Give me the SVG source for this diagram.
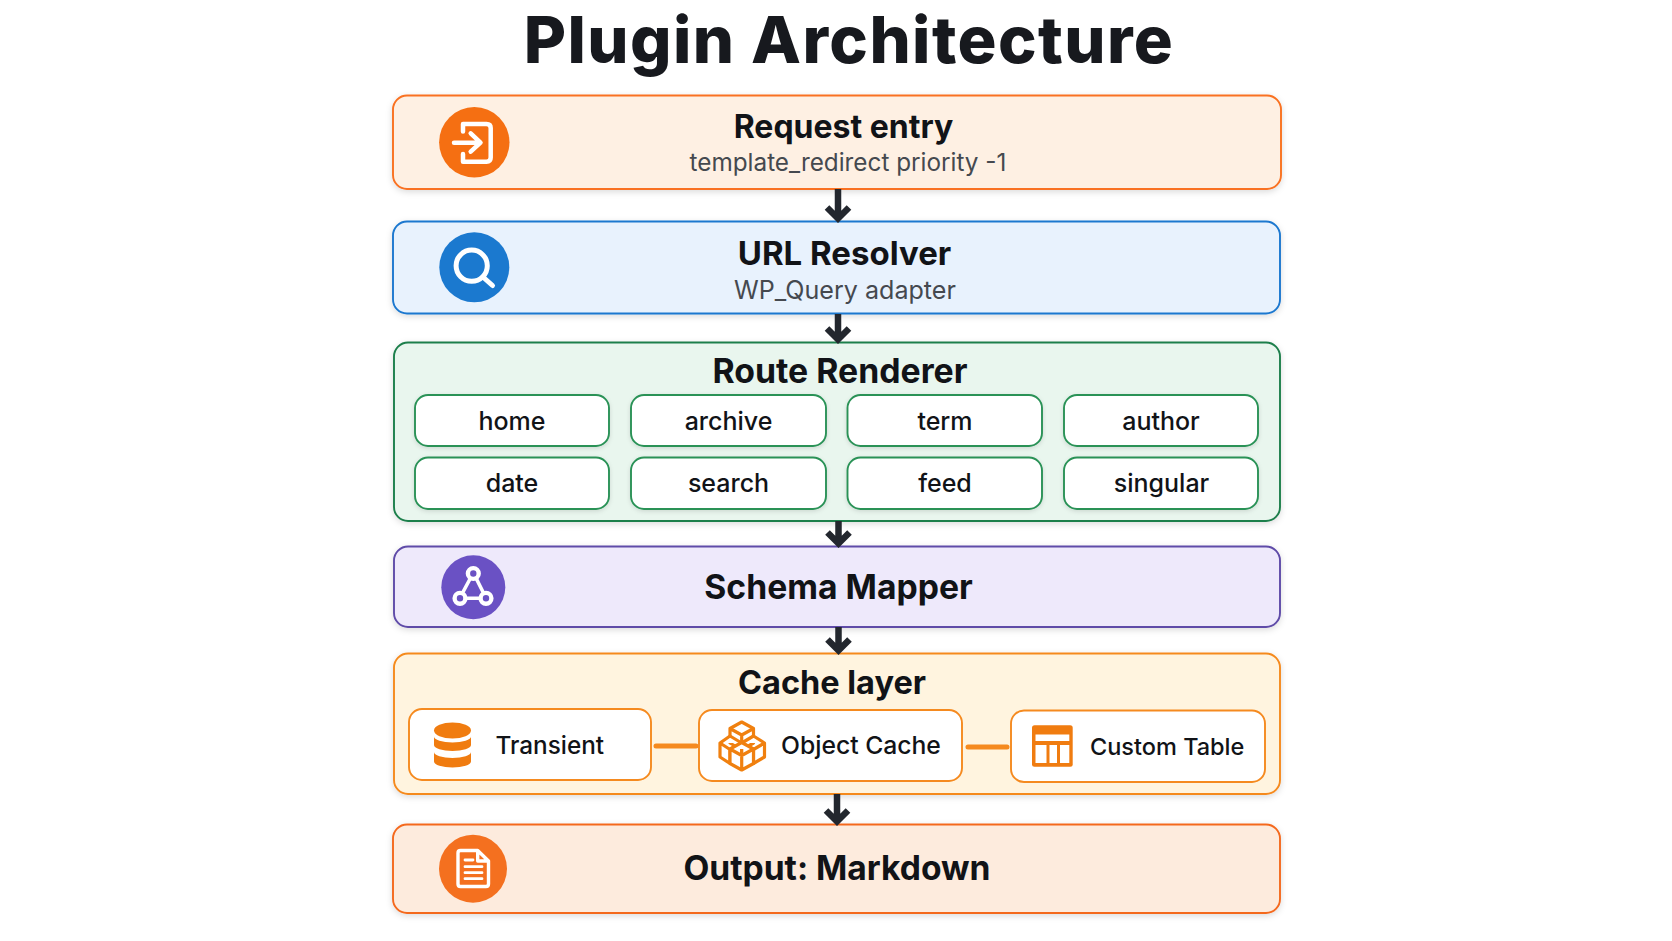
<svg xmlns="http://www.w3.org/2000/svg" width="1672" height="941" viewBox="0 0 1672 941">
<style>
text{font-family:Inter,"Liberation Sans",sans-serif;fill:#111317}
.h{font-weight:700;text-anchor:middle}
.s{font-weight:400;fill:#45494f;text-anchor:middle}
.c{font-size:25px;font-weight:500;text-anchor:middle}
.i{font-weight:500}
.box{stroke-width:1.9;filter:url(#sh)}
.chip{fill:#fff;stroke:#2a9257;stroke-width:1.9;filter:url(#shs)}
.sub{fill:#fff;stroke-width:1.9;stroke:#f58a1f}
.w{fill:none;stroke:#fff;stroke-linecap:round;stroke-linejoin:round}
.a{stroke:#23272e;stroke-width:6.5;fill:none;stroke-linejoin:miter}
.o{fill:#f07c10}
.cube{fill:#fff;stroke:#f0800f;stroke-width:3.2;stroke-linejoin:round}
</style>
<defs>
<filter id="sh" x="-5%" y="-20%" width="110%" height="140%"><feDropShadow dx="0" dy="2" stdDeviation="3" flood-color="#000" flood-opacity=".14"/></filter>
<filter id="shs" x="-10%" y="-20%" width="120%" height="140%"><feDropShadow dx="0" dy="1.5" stdDeviation="2" flood-color="#000" flood-opacity=".12"/></filter>
</defs>
<rect width="1672" height="941" fill="#fff"/>
<text id="title" x="849" y="63" style="font-size:65px;font-weight:800;letter-spacing:1.4px;text-anchor:middle;fill:#17191e">Plugin Architecture</text>

<g id="request-entry">
<rect class="box" x="393" y="95.5" width="888" height="93.5" rx="14" fill="#fef0e3" stroke="#f97120"/>
<circle cx="474.3" cy="142.3" r="35.2" fill="#f56f12"/>
<path class="w" stroke-width="4.5" d="M463,131.5V124H486.5Q490.7,124 490.7,128V157.5Q490.7,161.7 486.5,161.7H463V154"/>
<path class="w" stroke-width="4.5" d="M454,142.7H480M470.7,133.3L480.5,142.7L470.7,151.7"/>
<text class="h" font-size="32" x="843.5" y="138">Request entry</text>
<text class="s" font-size="24.3" x="848" y="171">template_redirect priority -1</text>
</g>

<g id="url-resolver">
<rect class="box" x="393" y="221.5" width="887" height="92" rx="14" fill="#e8f2fd" stroke="#1c78cf"/>
<circle cx="474.3" cy="267.3" r="35" fill="#1b79cf"/>
<circle cx="471.7" cy="265.7" r="15.6" class="w" stroke-width="5"/>
<path class="w" stroke-width="5" d="M483.5,277.5L492.5,285.5"/>
<text class="h" font-size="33" x="844.5" y="265">URL Resolver</text>
<text class="s" font-size="25.1" x="845" y="299">WP_Query adapter</text>
</g>

<g id="route-renderer">
<rect class="box" x="394" y="342.5" width="886" height="178.5" rx="14" fill="#e9f6ee" stroke="#1e7f4c"/>
<text class="h" font-size="33.8" x="840" y="383">Route Renderer</text>
<g id="route-home"><rect class="chip" x="415" y="395" width="194" height="51" rx="13"/><text class="c" x="512" y="430">home</text></g>
<g id="route-archive"><rect class="chip" x="631" y="395" width="195" height="51" rx="13"/><text class="c" x="728.5" y="430">archive</text></g>
<g id="route-term"><rect class="chip" x="847.5" y="395" width="194.500" height="51" rx="13"/><text class="c" x="945" y="430">term</text></g>
<g id="route-author"><rect class="chip" x="1064" y="395" width="194" height="51" rx="13"/><text class="c" x="1161" y="430">author</text></g>
<g id="route-date"><rect class="chip" x="415" y="457.500" width="194" height="51.500" rx="13"/><text class="c" x="512" y="492">date</text></g>
<g id="route-search"><rect class="chip" x="631" y="457.500" width="195" height="51.500" rx="13"/><text class="c" x="728.5" y="492">search</text></g>
<g id="route-feed"><rect class="chip" x="847.5" y="457.500" width="194.500" height="51.500" rx="13"/><text class="c" x="945" y="492">feed</text></g>
<g id="route-singular"><rect class="chip" x="1064" y="457.500" width="194" height="51.500" rx="13"/><text class="c" x="1161.5" y="492">singular</text></g>
</g>

<g id="schema-mapper">
<rect class="box" x="394" y="546.5" width="886" height="80.5" rx="14" fill="#eee9fb" stroke="#5f4ba8"/>
<circle cx="473.3" cy="587.3" r="32" fill="#6a51c4"/>
<path class="w" stroke-width="3.6" d="M470,579L463,592M476.500,579L483,592M467,598.300H479"/>
<circle class="w" stroke-width="4.4" cx="473.3" cy="573.500" r="5.400"/>
<circle class="w" stroke-width="4.4" cx="460" cy="598.300" r="5.400"/>
<circle class="w" stroke-width="4.4" cx="486" cy="598.300" r="5.400"/>
<text class="h" font-size="33.7" x="838.500" y="598.500">Schema Mapper</text>
</g>

<g id="cache-layer">
<rect class="box" x="394" y="653.500" width="886" height="140.500" rx="14" fill="#fff4df" stroke="#f58a1f"/>
<text class="h" font-size="32.500" x="832" y="694">Cache layer</text>
<g id="cache-transient">
<rect class="sub" x="409" y="709" width="242" height="71" rx="13"/>
<ellipse class="o" cx="452.500" cy="730.500" rx="18.500" ry="8"/>
<path class="o" d="M434,736.500a18.500,6 0 0 0 37,0V745a18.500,6 0 0 1 -37,0Z"/>
<path class="o" d="M434,752a18.500,6 0 0 0 37,0V761.500a18.500,6 0 0 1 -37,0Z"/>
<text class="i" font-size="24.3" x="495.500" y="754">Transient</text>
</g>
<g id="cache-object">
<rect class="sub" x="699" y="710" width="263" height="71" rx="13"/>
<g class="cube">
<path d="M741.700,722L753.500,728.500V743L741.700,750L730,743V728.500ZM730,728.500L741.700,735L753.500,728.500M741.700,735V750"/>
<path d="M730,736L741.700,743V756.500L730,763.500L720,757V743ZM720,743L730,749.500L741.700,743M730,749.500V763.500"/>
<path d="M753.500,736L764.500,743V757L753.500,763.500L741.700,756.500V743ZM741.700,743L753.500,749.500L764.500,743M753.500,749.500V763.500"/>
<path d="M741.700,742.500L753.500,749V763.500L741.700,770L730,763.500V749ZM730,749L741.700,755.500L753.500,749M741.700,755.500V770"/>
</g>
<text class="i" font-size="24.700" x="781" y="754">Object Cache</text>
</g>
<g id="cache-table">
<rect class="sub" x="1011" y="710.500" width="254" height="71.500" rx="13"/>
<rect class="o" x="1032" y="725.300" width="40.700" height="41.400" rx="2.500"/>
<path fill="#fff" d="M1035.500,734.500H1069.300V741H1035.500ZM1035.500,745H1046.500V763H1035.500ZM1049.500,745H1057V763H1049.500ZM1060,745H1069.300V763H1060Z"/>
<text class="i" font-size="23.500" x="1090" y="754.500">Custom Table</text>
</g>
</g>

<g id="output-markdown">
<rect class="box" x="393" y="824.500" width="887" height="88.500" rx="14" fill="#fdebdd" stroke="#f4691f"/>
<circle cx="473" cy="868.700" r="34" fill="#f4701f"/>
<path class="w" stroke-width="3.400" d="M477.700,850.500H460.500Q458,850.500 458,853V884Q458,886.500 460.500,886.500H486Q488.500,886.500 488.500,884V861ZM477.700,850.500V861H488.500"/>
<path class="w" stroke-width="2.800" d="M465,860H473M465,866.700H482M465,872.700H482M465,878.700H482"/>
<text class="h" font-size="33.600" x="837" y="880">Output: Markdown</text>
</g>

<g id="connectors">
<path class="a" d="M838,189V218M827,207.500L838,218.500L849,207.500"/>
<path class="a" d="M838,314V339M827,328.500L838,339.500L849,328.500"/>
<path class="a" d="M838.500,521V543M827.500,532.500L838.500,543.500L849.500,532.500"/>
<path class="a" d="M838.500,627V650M827.500,639.500L838.500,650.500L849.500,639.500"/>
<path class="a" d="M837,794V821M826,810.500L837,821.500L848,810.500"/>
<path d="M656,746H696M968,747H1007" stroke="#f58a1f" stroke-width="5" stroke-linecap="round" fill="none"/>
</g>
</svg>
